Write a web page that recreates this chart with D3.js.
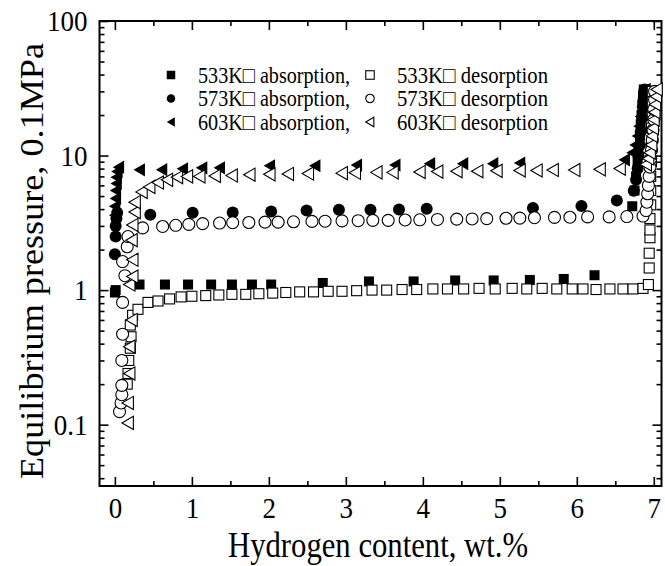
<!DOCTYPE html>
<html><head><meta charset="utf-8">
<script src="https://cdn.jsdelivr.net/npm/d3@7"></script>
<style>
body{margin:0;background:#fff}
svg text{font-family:"Liberation Serif","Times New Roman",serif;fill:#000}
.stretch{transform-box:fill-box;transform-origin:center;transform:scaleY(1.1)}
</style>
</head><body>
<svg id="c" width="665" height="566"></svg>
<script>
// ---- data ----
const xTickValues = [0,1,2,3,4,5,6,7];
const yTickValues = [0.1,1,10,100];
const yTickLabels = ["0.1","1","10","100"];
const xTitle = "Hydrogen content, wt.%";
const yTitle = "Equilibrium pressure, 0.1MPa";
const legendTemps = ["533K","573K","603K"];

const abs533 = [[0.0,0.96],[0.01,1.0],[0.32,1.10],[0.65,1.10],[0.95,1.10],[1.25,1.10],[1.52,1.10],[1.78,1.10],[2.03,1.10],[2.70,1.13],[3.30,1.16],[3.88,1.16],[4.42,1.18],[4.92,1.18],[5.39,1.19],[5.83,1.21],[6.23,1.29],[6.72,4.2],[6.75,5.5],[6.77,7.0],[6.79,9.0],[6.80,11],[6.82,14],[6.83,17],[6.84,20],[6.85,24],[6.86,28],[6.87,31]];
const abs573 = [[0.0,1.85],[0.01,2.5],[0.01,3.0],[0.02,3.4],[0.03,3.75],[0.46,3.63],[1.01,3.76],[1.53,3.77],[2.03,3.84],[2.49,3.91],[2.91,3.95],[3.32,3.95],[3.69,3.98],[4.05,4.02],[5.43,4.07],[6.06,4.22],[6.52,4.64],[6.74,5.47],[6.77,6.6],[6.79,8],[6.80,10],[6.82,12],[6.83,15],[6.85,19],[6.86,23],[6.87,27],[6.88,31]];
const abs603 = [[0.0,3.6],[0.0,4.2],[0.01,4.8],[0.01,5.5],[0.02,6.2],[0.02,6.9],[0.03,7.6],[0.05,8.2],[0.32,7.83],[0.61,7.85],[0.88,7.97],[1.13,8.1],[1.36,8.1],[2.01,8.4],[2.60,8.4],[3.14,8.5],[3.64,8.5],[4.09,8.7],[4.52,8.7],[4.91,8.7],[5.26,8.8],[6.62,9.3],[6.72,10.5],[6.76,12],[6.79,14],[6.81,16.5],[6.83,19.5],[6.85,23],[6.87,27],[6.89,31]];
const des533 = [[0.16,0.2],[0.17,0.24],[0.18,0.3],[0.2,0.37],[0.21,0.45],[0.2,0.55],[0.23,0.65],[0.30,0.72],[0.43,0.81],[0.56,0.83],[0.71,0.86],[0.86,0.89],[1.0,0.9],[1.18,0.91],[1.35,0.92],[1.52,0.93],[1.70,0.93],[1.87,0.94],[2.05,0.95],[2.22,0.96],[2.40,0.97],[2.58,0.97],[2.77,0.98],[2.95,0.98],[3.14,0.99],[3.34,1.0],[3.53,1.0],[3.73,1.01],[3.92,1.01],[4.13,1.02],[4.32,1.02],[4.53,1.02],[4.73,1.03],[4.94,1.02],[5.16,1.03],[5.35,1.02],[5.55,1.03],[5.74,1.02],[5.94,1.02],[6.08,1.02],[6.25,1.01],[6.43,1.02],[6.60,1.02],[6.73,1.02],[6.86,1.03],[6.93,1.1],[6.94,1.46],[6.94,1.88],[6.95,2.45],[6.95,2.8],[6.95,3.4],[6.96,4.3],[6.96,5.5],[6.96,7],[6.97,9],[6.97,12],[6.97,16],[6.98,20],[6.98,25],[6.98,30]];
const des573 = [[0.06,0.125],[0.08,0.145],[0.09,0.167],[0.09,0.196],[0.09,0.30],[0.1,0.47],[0.1,0.81],[0.13,1.28],[0.1,1.63],[0.16,2.1],[0.17,2.5],[0.36,2.9],[0.62,2.97],[0.79,3.03],[0.96,3.08],[1.14,3.12],[1.36,3.15],[1.53,3.17],[1.74,3.18],[1.95,3.2],[2.12,3.2],[2.32,3.22],[2.56,3.24],[2.73,3.25],[2.95,3.27],[3.16,3.28],[3.35,3.3],[3.55,3.3],[3.77,3.32],[3.96,3.33],[4.19,3.35],[4.44,3.37],[4.64,3.38],[4.83,3.4],[5.08,3.42],[5.26,3.43],[5.45,3.45],[5.71,3.47],[5.91,3.48],[6.14,3.5],[6.42,3.5],[6.65,3.52],[6.86,3.55],[6.9,3.9],[6.91,4.5],[6.92,5.2],[6.93,6],[6.94,7],[6.95,8.2],[6.96,9.5],[6.97,11],[6.98,13],[6.99,15.5],[7.0,18.5],[7.0,22],[7.01,26],[7.01,30]];
const des603 = [[0.17,0.103],[0.17,0.145],[0.19,0.24],[0.19,0.38],[0.22,0.6],[0.19,1.1],[0.23,1.26],[0.23,1.68],[0.22,2.35],[0.23,3.05],[0.26,3.8],[0.26,4.5],[0.35,5.37],[0.45,5.85],[0.56,6.3],[0.68,6.6],[0.81,6.9],[0.94,7.0],[1.10,7.0],[1.30,7.05],[1.52,7.1],[1.75,7.2],[2.01,7.25],[2.25,7.3],[2.51,7.35],[2.95,7.4],[3.12,7.45],[3.40,7.5],[3.61,7.5],[3.96,7.55],[4.19,7.6],[4.44,7.65],[4.71,7.65],[4.96,7.7],[5.26,7.75],[5.48,7.75],[5.69,7.8],[5.97,7.8],[6.30,7.9],[6.56,8.0],[6.9,8.6],[6.93,9.5],[6.95,10.5],[6.97,12],[6.98,14],[6.99,16],[7.0,18.5],[7.01,21],[7.02,24],[7.03,27.5],[7.04,31]];

// ---- chart ----
const svg = d3.select("#c");
const L=99.5, R=661.5, T=21, B=486;
const x = d3.scaleLinear().domain([-0.2,7.1]).range([L,R]);
const y = d3.scaleLog().domain([0.035,100]).range([B,T]);

const xMinor = d3.range(0.5,7,1);
const yMinor = [];
[0.01,0.1,1,10].forEach(d=>{for(let k=2;k<=9;k++){const v=d*k; if(v>=0.035 && v<100) yMinor.push(v);}});

function styleAxis(g){
  g.select(".domain").remove();
  g.selectAll(".tick line").attr("stroke","#000").attr("stroke-width",1.6);
}
// bottom
svg.append("g").attr("transform",`translate(0,${B})`)
  .call(d3.axisBottom(x).tickValues(xTickValues).tickSize(-9).tickPadding(12).tickFormat(d3.format("d")))
  .call(styleAxis)
  .call(g=>g.selectAll("text").attr("font-size",27).attr("class","stretch").attr("font-family","Liberation Serif"));
svg.append("g").attr("transform",`translate(0,${B})`)
  .call(d3.axisBottom(x).tickValues(xMinor).tickSize(-5).tickFormat(""))
  .call(styleAxis);
// top
svg.append("g").attr("transform",`translate(0,${T})`)
  .call(d3.axisTop(x).tickValues(xTickValues).tickSize(-9).tickFormat(""))
  .call(styleAxis);
svg.append("g").attr("transform",`translate(0,${T})`)
  .call(d3.axisTop(x).tickValues(xMinor).tickSize(-5).tickFormat(""))
  .call(styleAxis);
// left
svg.append("g").attr("transform",`translate(${L},0)`)
  .call(d3.axisLeft(y).tickValues(yTickValues).tickSize(-9).tickPadding(12).tickFormat((d,i)=>yTickLabels[i]))
  .call(styleAxis)
  .call(g=>g.selectAll("text").attr("font-size",27).attr("class","stretch").attr("font-family","Liberation Serif"));
svg.append("g").attr("transform",`translate(${L},0)`)
  .call(d3.axisLeft(y).tickValues(yMinor).tickSize(-5).tickFormat(""))
  .call(styleAxis);
// right
svg.append("g").attr("transform",`translate(${R},0)`)
  .call(d3.axisRight(y).tickValues(yTickValues).tickSize(-9).tickFormat(""))
  .call(styleAxis);
svg.append("g").attr("transform",`translate(${R},0)`)
  .call(d3.axisRight(y).tickValues(yMinor).tickSize(-5).tickFormat(""))
  .call(styleAxis);
// frame
svg.append("rect").attr("x",L).attr("y",T).attr("width",R-L).attr("height",B-T)
  .attr("fill","none").attr("stroke","#000").attr("stroke-width",2);

// markers
const triPath = s => `M${-s*0.5},0L${s*0.45},${-s*0.55}L${s*0.45},${s*0.55}Z`;
function shape(g, type, filled, s){
  const fill = filled ? "#000" : "#fff";
  const sw = filled ? 0 : 1.1;
  if(type==="square") return g.append("rect").attr("x",-s/2).attr("y",-s/2).attr("width",s).attr("height",s).attr("fill",fill).attr("stroke","#000").attr("stroke-width",sw);
  if(type==="circle") return g.append("circle").attr("r",s/2).attr("fill",fill).attr("stroke","#000").attr("stroke-width",sw);
  return g.append("path").attr("d",triPath(s)).attr("fill",fill).attr("stroke","#000").attr("stroke-width",sw).attr("stroke-linejoin","miter");
}
const plot = svg.append("g");
const series = [
  {data:abs533,type:"square",filled:true,size:10},
  {data:abs573,type:"circle",filled:true,size:12},
  {data:abs603,type:"tri",filled:true,size:12},
  {data:des533,type:"square",filled:false,size:10},
  {data:des573,type:"circle",filled:false,size:12},
  {data:des603,type:"tri",filled:false,size:12}
];
series.forEach(s=>{
  plot.append("g").selectAll("g").data(s.data).join("g")
    .attr("transform",d=>`translate(${x(d[0])},${y(d[1])})`)
    .each(function(){shape(d3.select(this),s.type,s.filled,s.size);});
});

// legend
const leg = svg.append("g");
const types=["square","circle","tri"];
legendTemps.forEach((t,i)=>{
  const yy = 75 + i*23.5;
  const g1 = leg.append("g").attr("transform",`translate(171,${yy})`);
  shape(g1,types[i],true,8.5);
  leg.append("text").attr("x",198).attr("y",yy+7).attr("font-size",21).attr("class","stretch")
     .attr("textLength",152).attr("lengthAdjust","spacingAndGlyphs")
     .text(t+"\u25A1 absorption,");
  const g2 = leg.append("g").attr("transform",`translate(370,${yy})`);
  shape(g2,types[i],false,8.5);
  leg.append("text").attr("x",397).attr("y",yy+7).attr("font-size",21).attr("class","stretch")
     .attr("textLength",151).attr("lengthAdjust","spacingAndGlyphs")
     .text(t+"\u25A1 desorption");
});

// titles
svg.append("text").attr("x",378).attr("y",556).attr("text-anchor","middle")
  .attr("font-size",32).attr("class","stretch")
  .attr("textLength",300).attr("lengthAdjust","spacingAndGlyphs").text(xTitle);
svg.append("text").attr("transform",`translate(43,261) rotate(-90)`).attr("text-anchor","middle")
  .attr("font-size",33).attr("textLength",436).attr("lengthAdjust","spacingAndGlyphs").text(yTitle);
</script>
</body></html>
